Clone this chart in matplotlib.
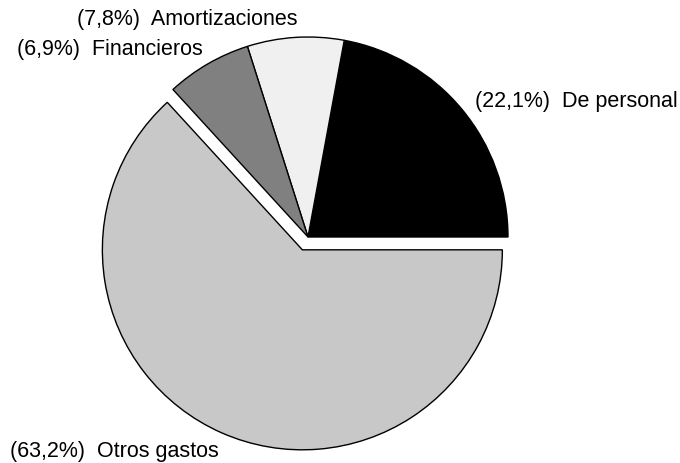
import matplotlib
matplotlib.use("Agg")
import matplotlib.pyplot as plt

categories = ["De personal", "Amortizaciones", "Financieros", "Otros gastos"]
values = [22.1, 7.8, 6.9, 63.2]
colors = ["#000000", "#f0f0f0", "#808080", "#c8c8c8"]
explode = [0, 0, 0, 14]

W, H = 680, 464
fig = plt.figure(figsize=(W / 100, H / 100), dpi=100)
ax = fig.add_axes([0, 0, 1, 1])

ax.pie(values, colors=colors, explode=explode, startangle=0, counterclock=False,
       center=(308, 238), radius=200, frame=True,
       wedgeprops=dict(edgecolor="black", linewidth=1.0))
ax.set_xlim(0, W)
ax.set_ylim(H, 0)
ax.set_aspect("equal")
ax.axis("off")

label_pos = [(475, 102), (77, 20), (17, 50), (10, 452)]
for (x, y), name, v in zip(label_pos, categories, values):
    txt = f"({v:.1f}%)  {name}".replace(".", ",")
    ax.text(x, y, txt, ha="left", va="center", fontsize=15.5,
            family="Liberation Sans", color="black")

fig.savefig("out.png", dpi=100)
